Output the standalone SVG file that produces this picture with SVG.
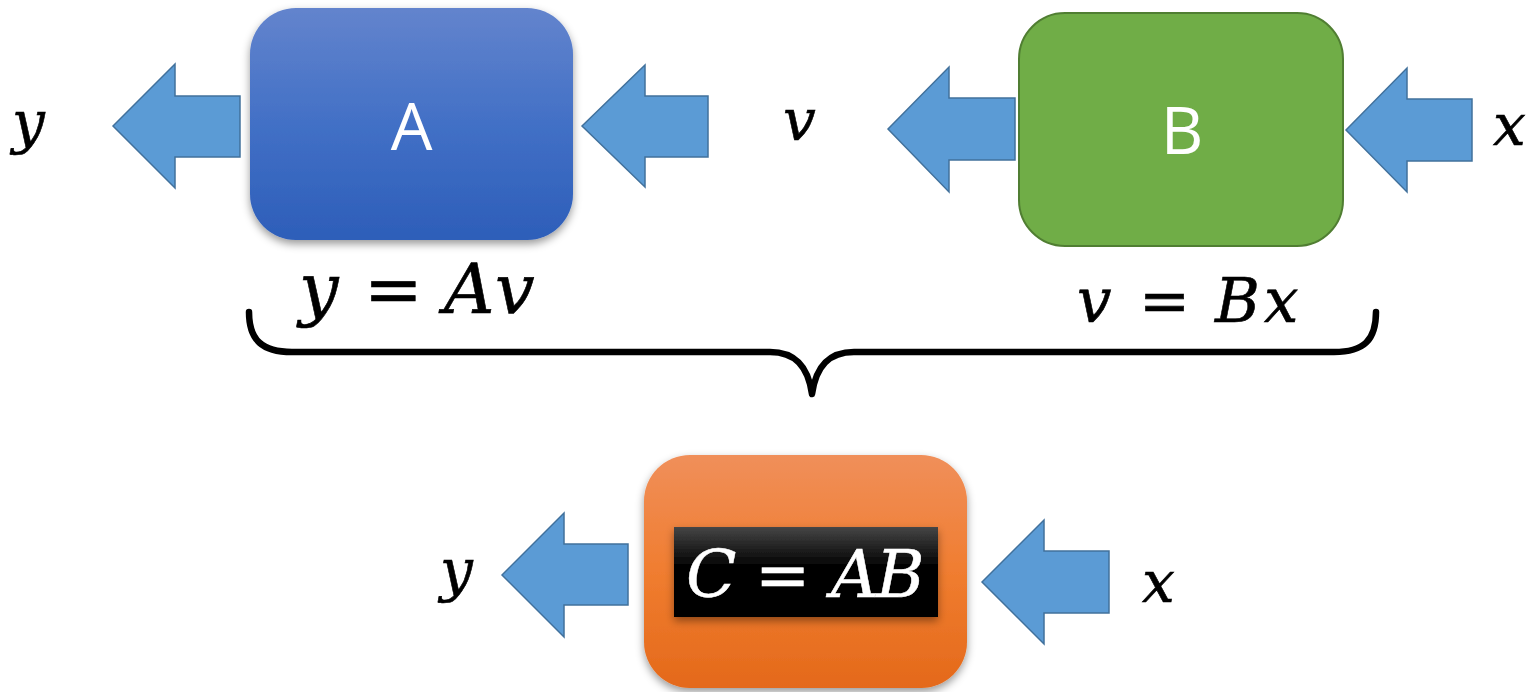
<svg xmlns="http://www.w3.org/2000/svg" width="1535" height="692" viewBox="0 0 1535 692">
  <defs>
    <linearGradient id="gA" x1="0" y1="0" x2="0" y2="1">
      <stop offset="0" stop-color="#6384cd"/>
      <stop offset="0.5" stop-color="#4270c6"/>
      <stop offset="1" stop-color="#2d5eb9"/>
    </linearGradient>
    <linearGradient id="gC" x1="0" y1="0" x2="0" y2="1">
      <stop offset="0" stop-color="#f08f5a"/>
      <stop offset="0.5" stop-color="#f07d30"/>
      <stop offset="1" stop-color="#e4691a"/>
    </linearGradient>
    <linearGradient id="gK" x1="0" y1="0" x2="0" y2="1">
      <stop offset="0" stop-color="#454545"/>
      <stop offset="0.45" stop-color="#000000"/>
      <stop offset="1" stop-color="#000000"/>
    </linearGradient>
    <filter id="sh" x="-20%" y="-20%" width="140%" height="150%">
      <feDropShadow dx="0" dy="4" stdDeviation="4" flood-color="#000" flood-opacity="0.4"/>
    </filter>
  </defs>
  <style>
    .arrow { fill: #5b9bd5; stroke: #41719c; stroke-width: 1.5; stroke-linejoin: miter; }
    .math { font-family: "DejaVu Serif", "Liberation Serif", serif; font-style: italic; font-size: 58px; fill: #000; stroke: #000; stroke-width: 0.6; }
    .wmath { font-family: "DejaVu Serif", "Liberation Serif", serif; font-style: italic; font-size: 66px; fill: #fff; stroke: #fff; stroke-width: 0.5; }
    .eq { font-style: normal; }
    .lbl { font-family: "Open Sans", "Liberation Sans", sans-serif; font-size: 66px; fill: #fff; text-anchor: middle; }
    .brace { fill: none; stroke: #000; stroke-width: 6.5; stroke-linecap: round; stroke-linejoin: round; }
  </style>

  <g id="nodeA">
    <rect x="250" y="8" width="323" height="232" rx="46" ry="46" fill="url(#gA)" filter="url(#sh)"/>
    <text class="lbl" x="411.5" y="150">A</text>
  </g>

  <g id="nodeB">
    <rect x="1019" y="13" width="324" height="233" rx="46" ry="46" fill="#70ad47" stroke="#507e32" stroke-width="2"/>
    <text class="lbl" x="1182" y="154">B</text>
  </g>

  <g id="nodeC">
    <rect x="644" y="455" width="323" height="233" rx="46" ry="46" fill="url(#gC)" filter="url(#sh)"/>
    <rect x="674" y="527" width="264" height="90" fill="url(#gK)" filter="url(#sh)"/>
    <text class="wmath"><tspan x="686" y="597">C</tspan><tspan class="eq" x="755" y="597">=</tspan><tspan x="831" y="597">A</tspan><tspan x="876" y="597">B</tspan></text>
  </g>

  <g id="labels">
    <text class="math" x="12" y="142">y</text>
    <text class="math" x="783" y="140">v</text>
    <text class="math" x="1493" y="145">x</text>
    <text class="math" style="font-size:70px"><tspan x="299" y="313">y</tspan><tspan class="eq" x="364" y="313">=</tspan><tspan x="444" y="313">A</tspan><tspan x="495" y="313">v</tspan></text>
    <text class="math" style="font-size:61px"><tspan x="1077" y="322">v</tspan><tspan class="eq" x="1139" y="322">=</tspan><tspan x="1215" y="322">B</tspan><tspan x="1264" y="322">x</tspan></text>
    <text class="math" x="440" y="590">y</text>
    <text class="math" x="1142" y="602">x</text>
  </g>

  <g id="connectors">
    <polygon class="arrow" points="113,126 175,64 175,96 240,96 240,157 175,157 175,188"/>
    <polygon class="arrow" points="582,126 645,65 645,96 708,96 708,157 645,157 645,187"/>
    <polygon class="arrow" points="888,129 949,67 949,98 1015,98 1015,160 949,160 949,192"/>
    <polygon class="arrow" points="1346,130 1407,68 1407,99 1472,99 1472,161 1407,161 1407,192"/>
    <polygon class="arrow" points="502,575 564,513 564,544 628,544 628,605 564,605 564,637"/>
    <polygon class="arrow" points="982,582 1044,520 1044,551 1109,551 1109,613 1044,613 1044,644"/>
    <path class="brace" d="M249,312 C249,340 262,352 292,352 L770,352 C795,352 808,366 812,394 C816,366 829,352 854,352 L1334,352 C1364,352 1376,340 1376,312"/>
  </g>
</svg>
